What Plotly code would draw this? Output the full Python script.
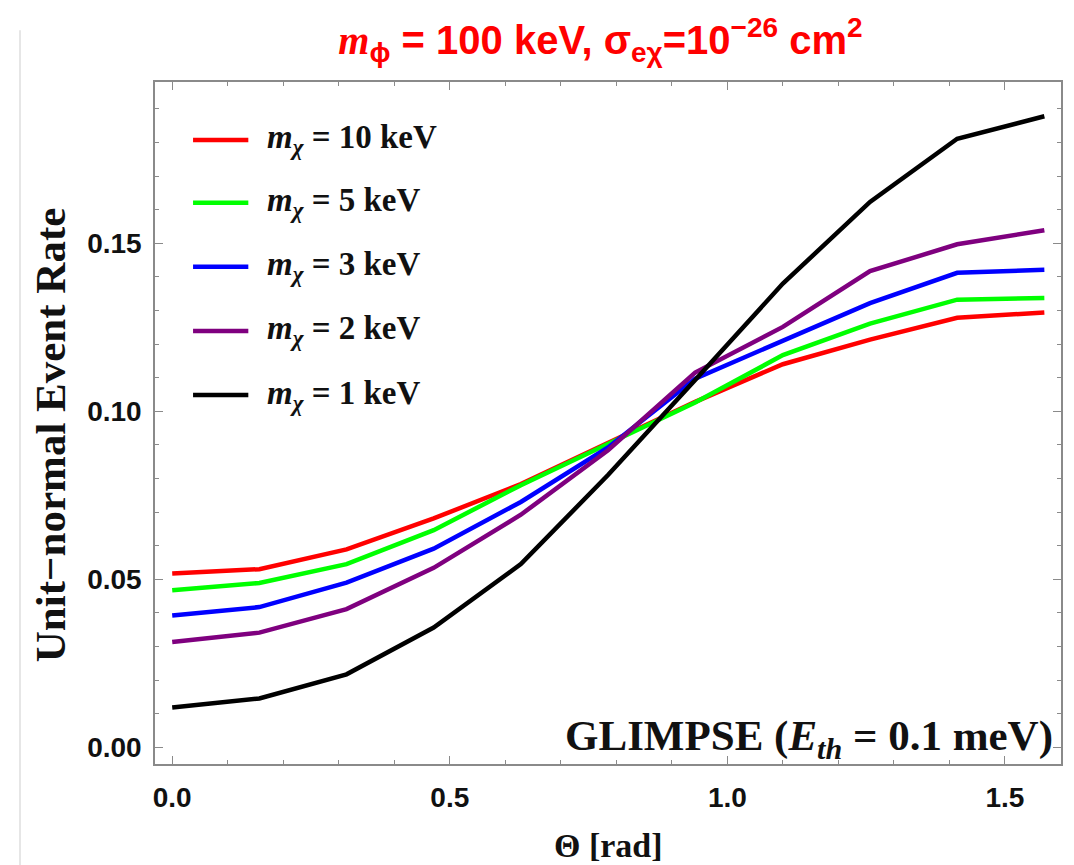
import plotly.graph_objects as go

theta = [0.0, 0.157, 0.314, 0.471, 0.628, 0.785, 0.942, 1.100, 1.257, 1.414, 1.571]

rate_10kev = [0.0517, 0.0530, 0.0589, 0.0681, 0.0783, 0.0904, 0.1028, 0.1140, 0.1213, 0.1278, 0.1294]
rate_5kev = [0.0467, 0.0489, 0.0545, 0.0646, 0.0780, 0.0904, 0.1026, 0.1167, 0.1261, 0.1332, 0.1337]
rate_3kev = [0.0392, 0.0417, 0.0490, 0.0591, 0.0730, 0.0892, 0.1097, 0.1209, 0.1322, 0.1412, 0.1421]
rate_2kev = [0.0313, 0.0341, 0.0411, 0.0534, 0.0692, 0.0884, 0.1115, 0.1251, 0.1417, 0.1497, 0.1539]
rate_1kev = [0.0118, 0.0145, 0.0217, 0.0356, 0.0545, 0.0810, 0.1093, 0.1380, 0.1623, 0.1811, 0.1878]

series_labels = ["10", "5", "3", "2", "1"]
series_values = [rate_10kev, rate_5kev, rate_3kev, rate_2kev, rate_1kev]
series_colors = ["#FF0000", "#00FF00", "#0000FF", "#7F007F", "#000000"]

x_ticks = [0.0, 0.5, 1.0, 1.5]
x_ticklabels = ["0.0", "0.5", "1.0", "1.5"]
y_ticks = [0.00, 0.05, 0.10, 0.15]
y_ticklabels = ["0.00", "0.05", "0.10", "0.15"]

serif = "Liberation Serif"
sans = "Liberation Sans"
frame = "#8a8a8a"
ink = "#111111"

fig = go.Figure()
for lab, vals, col in zip(series_labels, series_values, series_colors):
    fig.add_trace(go.Scatter(
        x=theta, y=vals, mode="lines",
        line=dict(color=col, width=4.5),
        name=f"m_chi = {lab} keV",
        showlegend=False,
    ))

axis_common = dict(
    showline=True, linecolor=frame, linewidth=1.5, mirror="allticks",
    ticks="inside", ticklen=8, tickcolor=frame, tickwidth=1,
    showgrid=False, zeroline=False, automargin=False,
    tickfont=dict(family=sans, size=28, color=ink, weight="bold"),
)

fig.update_layout(
    width=1058, height=865,
    paper_bgcolor="white", plot_bgcolor="white",
    margin=dict(l=147, r=5, t=74, b=109, autoexpand=False),
    title=dict(
        text=("<b><span style=\"font-family:Liberation Serif\"><i>m</i></span><sub>ϕ</sub>"
              " = 100 keV, σ<sub>eχ</sub>=10<sup>−26</sup> cm<sup>2</sup></b>"),
        font=dict(family=sans, size=40, color="#FF0000"),
        x=0.56, xanchor="center", y=1 - 32 / 865, yanchor="middle",
    ),
    showlegend=False,
    xaxis=dict(
        range=[-0.031, 1.601],
        tickvals=x_ticks, ticktext=x_ticklabels,
        minor=dict(dtick=0.1, tick0=0, ticks="inside", ticklen=4, tickcolor=frame, showgrid=False),
        ticklabelstandoff=8,
        **axis_common,
    ),
    yaxis=dict(
        range=[-0.005, 0.198],
        tickvals=y_ticks, ticktext=y_ticklabels,
        minor=dict(dtick=0.01, tick0=0, ticks="inside", ticklen=4, tickcolor=frame, showgrid=False),
        ticklabelstandoff=6,
        **axis_common,
    ),
)

# axis titles placed as in the reference
fig.add_annotation(
    text="<b>Unit−normal Event Rate</b>", textangle=-90,
    xref="paper", yref="paper", x=-0.116, y=0.482, xanchor="center", yanchor="middle",
    showarrow=False, font=dict(family=serif, size=43, color=ink),
)
fig.add_annotation(
    text="<b>Θ [rad]</b>",
    xref="paper", yref="paper", x=0.5, y=-0.119, xanchor="center", yanchor="middle",
    showarrow=False, font=dict(family=serif, size=34, color=ink),
)

# legend drawn inside the plot area (long line samples as in the reference)
legend_y = [0.915, 0.823, 0.729, 0.635, 0.541]
for lab, col, ly in zip(series_labels, series_colors, legend_y):
    fig.add_shape(type="line", xref="paper", yref="paper", x0=0.042, x1=0.103, y0=ly, y1=ly,
                  line=dict(color=col, width=4.5))
    fig.add_annotation(
        text=f"<b><i>m</i><sub><i>χ</i></sub> = {lab} keV</b>",
        xref="paper", yref="paper", x=0.121, y=ly, xanchor="left", yanchor="middle",
        showarrow=False, font=dict(family=serif, size=33, color=ink),
    )

fig.add_annotation(
    text="<b>GLIMPSE (<i>E</i><sub><i>th</i></sub> = 0.1 meV)</b>",
    xref="paper", yref="paper", x=0.993, y=0.036, xanchor="right", yanchor="middle",
    showarrow=False, font=dict(family=serif, size=43, color=ink),
)

# faint page edges seen in the reference screenshot
fig.add_shape(type="line", xref="paper", yref="paper", x0=-0.149, x1=-0.149, y0=-0.16, y1=1.076,
              line=dict(color="#e6e6e6", width=2))
fig.add_shape(type="line", xref="paper", yref="paper", x0=1.0066, x1=1.0066, y0=-0.16, y1=1.12,
              line=dict(color="#e6e6e6", width=2))

fig.write_html("out.html")
